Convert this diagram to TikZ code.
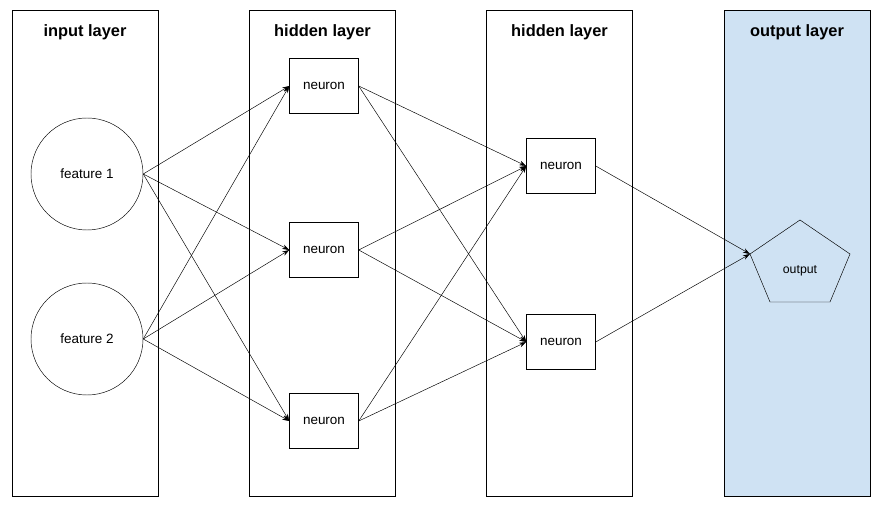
\documentclass[tikz,border=0pt]{standalone}
\usepackage{fontspec}
\setmainfont{Liberation Sans}
\usetikzlibrary{shapes.geometric,arrows.meta}
\begin{document}
\begin{tikzpicture}[x=0.03cm,y=-0.03cm]
      \tikzset{layer/.style = {draw=black, thick, minimum width=4.38cm, minimum height=14.58cm, inner sep=0pt},
        title/.style = {font=\fontsize{14}{16}\selectfont\bfseries},
        feat/.style = {draw=black, circle, minimum size=3.36cm, font=\fontsize{11.5}{13}\selectfont},
        neuron/.style = {draw=black, minimum width=2.07cm, minimum height=1.65cm, font=\fontsize{11.5}{13}\selectfont},
        conn/.style = {-{Stealth[length=6pt,width=4pt]}}}
      \useasboundingbox (0,0) rectangle (882,516);

      % layers
      \node[layer] (lin) at (85,253) {};
      \node[layer] (lh1) at (322.5,253) {};
      \node[layer] (lh2) at (559.5,253) {};
      \node[layer, fill={rgb,255:red,207;green,226;blue,243}] (lout) at (797,253) {};
      \node[title] (tin) at (85,32) {input layer};
      \node[title] (th1) at (322.5,32) {hidden layer};
      \node[title] (th2) at (559.5,32) {hidden layer};
      \node[title] (tout) at (797,32) {output layer};

      % nodes
      \node[feat] (f1) at (87,174) {feature 1};
      \node[feat] (f2) at (87,339) {feature 2};
      \node[neuron] (a1) at (324,86) {neuron};
      \node[neuron] (a2) at (324,250) {neuron};
      \node[neuron] (a3) at (324,421) {neuron};
      \node[neuron] (b1) at (561,166) {neuron};
      \node[neuron] (b2) at (561,342) {neuron};

      % output pentagon
      \coordinate (p1) at (800,220);
      \coordinate (p2) at (750,254);
      \coordinate (p3) at (770,302);
      \coordinate (p4) at (830,302);
      \coordinate (p5) at (850,254);
      \draw (p1) -- (p2) -- (p3) -- (p4) -- (p5) -- cycle;
      \node[font=\fontsize{10.5}{12}\selectfont] (out) at (800,271) {output};

      % connections
      \foreach \f in {f1,f2}
        \foreach \a in {a1,a2,a3}
          \draw[conn] (\f.east) -- (\a.west);
      \foreach \a in {a1,a2,a3}
        \foreach \b in {b1,b2}
          \draw[conn] (\a.east) -- (\b.west);
      \draw[conn] (b1.east) -- (p2);
      \draw[conn] (b2.east) -- (p2);
    \end{tikzpicture}
\end{document}
